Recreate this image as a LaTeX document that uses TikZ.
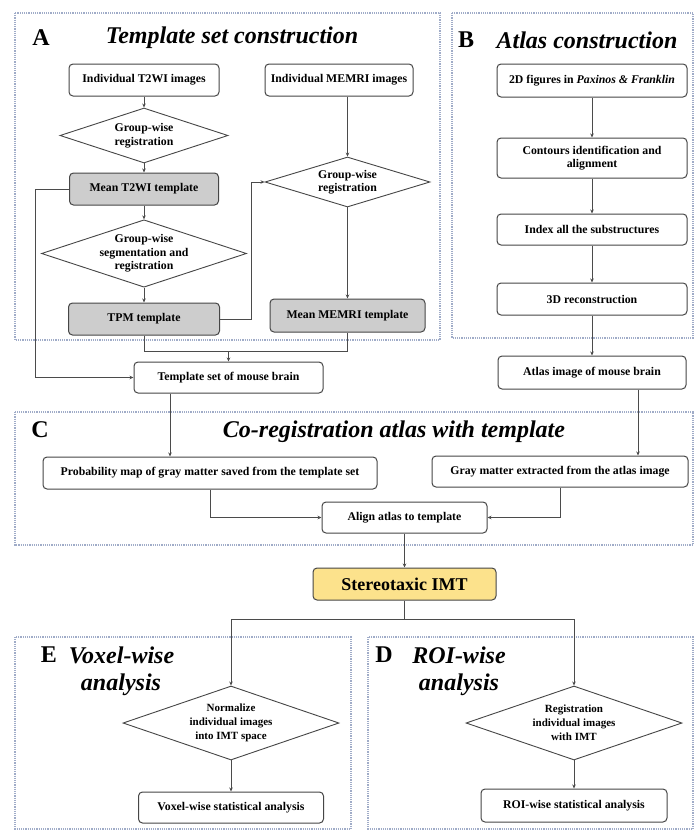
\documentclass[tikz,border=0pt]{standalone}
\usepackage{fontspec}
\setmainfont{Liberation Serif}
\usetikzlibrary{shapes.geometric,arrows.meta}

\definecolor{panelline}{RGB}{160,172,200}
\definecolor{boxline}{RGB}{70,70,70}
\definecolor{tmplfill}{RGB}{205,205,205}
\definecolor{imtfill}{RGB}{252,226,140}
\definecolor{wire}{RGB}{75,75,75}

\newcommand\bxfont{\fontsize{11.8}{13.5}\selectfont\bfseries}
\newcommand\dcfont{\fontsize{11.8}{13.5}\selectfont\bfseries}
\newcommand\dcsmall{\fontsize{11}{14}\selectfont\bfseries}
\newcommand\ltfont{\fontsize{24}{26}\selectfont\bfseries}
\newcommand\hdfont{\fontsize{24}{28}\selectfont\bfseries\itshape}

\tikzset{
  panel/.style={draw=panelline, densely dotted, line width=1.2pt},
  box/.style={draw=boxline, line width=1pt, rounded corners=4pt, fill=white,
    inner sep=0pt, align=center, font=\bxfont},
  tmpl/.style={box, fill=tmplfill},
  imt/.style={box, fill=imtfill, font=\fontsize{18}{20}\selectfont\bfseries},
  decision/.style={draw=boxline, line width=0.9pt, shape=diamond, shape aspect=3,
    inner sep=0pt, align=center, font=\dcfont},
  flow/.style={draw=wire, line width=0.9pt, -{Stealth[length=4pt,width=3.5pt]}},
  link/.style={draw=wire, line width=0.9pt},
  letter/.style={font=\ltfont, inner sep=0pt},
  heading/.style={font=\hdfont, inner sep=0pt, align=center},
}

\begin{document}
\begin{tikzpicture}[x=1pt, y=-1pt]
  \useasboundingbox[fill=white] (0,0) rectangle (695,830);

  % panel frames
  \draw[panel] (15,13) rectangle (440,340);
  \draw[panel] (452,13) rectangle (693,338);
  \draw[panel] (15,412) rectangle (693,545);
  \draw[panel] (15,637) rectangle (351,829);
  \draw[panel] (368,637) rectangle (693,829);

  % panel headings
  \node[letter] (la) at (41,38) {A};
  \node[heading] (ha) at (232,38) {Template set construction};
  \node[letter] (lb) at (466,40) {B};
  \node[heading] (hb) at (587,40) {Atlas construction};
  \node[letter] (lc) at (40,430) {C};
  \node[heading] (hc) at (394,432) {Co-registration atlas with template};
  \node[letter] (le) at (49,655) {E};
  \node[heading] (he1) at (121.5,655) {Voxel-wise};
  \node[heading] (he2) at (121,685) {analysis};
  \node[letter] (ld) at (384,655) {D};
  \node[heading] (hd1) at (459,655) {ROI-wise};
  \node[heading] (hd2) at (459,685) {analysis};

  % A: template set construction
  \node[box, minimum width=150pt, minimum height=32pt] (t2wi) at (144,80) {Individual T2WI images};
  \node[decision, minimum width=168pt, minimum height=55pt] (reg1) at (144,135.5) {Group-wise\\registration};
  \node[tmpl, minimum width=149pt, minimum height=32pt] (meant2) at (144,189) {Mean T2WI template};
  \node[decision, minimum width=205pt, minimum height=65pt] (seg) at (144,253.5) {Group-wise\\segmentation and\\registration};
  \node[tmpl, minimum width=151pt, minimum height=32pt] (tpm) at (144,319) {TPM template};
  \node[box, minimum width=148pt, minimum height=32pt] (memri) at (339,80) {Individual MEMRI images};
  \node[decision, minimum width=165pt, minimum height=50pt] (reg2) at (347.5,182) {Group-wise\\registration};
  \node[tmpl, minimum width=155pt, minimum height=33pt] (meanme) at (347.5,315.5) {Mean MEMRI template};
  \node[box, minimum width=189pt, minimum height=31pt] (tset) at (228.5,377.5) {Template set of mouse brain};

  % B: atlas construction
  \node[box, minimum width=190pt, minimum height=33pt] (fig2d) at (592,80.5) {2D figures in \textit{Paxinos \& Franklin}};
  \node[box, minimum width=190pt, minimum height=40pt] (cont) at (592,158) {Contours identification and\\alignment};
  \node[box, minimum width=190pt, minimum height=31pt] (index) at (592,229.5) {Index all the substructures};
  \node[box, minimum width=190pt, minimum height=32pt] (recon) at (592,299) {3D reconstruction};
  \node[box, minimum width=188pt, minimum height=33pt] (atlas) at (592,372.5) {Atlas image of mouse brain};

  % C: co-registration
  \node[box, minimum width=334pt, minimum height=32pt] (prob) at (210,473) {Probability map of gray matter saved from the template set};
  \node[box, minimum width=256pt, minimum height=31pt] (gray) at (560,471.5) {Gray matter extracted from the atlas image};
  \node[box, minimum width=165pt, minimum height=31pt] (align) at (404.5,517.5) {Align atlas to template};

  \node[imt, minimum width=183pt, minimum height=32pt] (stereo) at (404.5,584) {Stereotaxic IMT};

  % E and D: analyses
  \node[decision, font=\dcsmall, minimum width=216pt, minimum height=74pt] (norm) at (231,723) {Normalize\\individual images\\into IMT space};
  \node[box, minimum width=185pt, minimum height=31pt] (voxel) at (231,807.5) {Voxel-wise statistical analysis};
  \node[decision, font=\dcsmall, minimum width=216pt, minimum height=74pt] (roireg) at (574,723) {Registration\\individual images\\with IMT};
  \node[box, minimum width=186pt, minimum height=33pt] (roi) at (574,805.5) {ROI-wise statistical analysis};

  % connectors in A
  \draw[flow] (t2wi) -- (reg1);
  \draw[flow] (reg1) -- (meant2);
  \draw[flow] (meant2) -- (seg);
  \draw[flow] (seg) -- (tpm);
  \draw[flow] (memri.south -| reg2.north) -- (reg2.north);
  \draw[flow] (reg2) -- (meanme);
  \draw[flow] (tpm.east) -- ++(31,0) |- (reg2.west);
  \draw[flow] (meant2.west) -- ++(-34,0) |- (tset.west);
  \draw[link] (tpm.south) -- ++(0,16) coordinate (join) -| (meanme.south);
  \draw[flow] (join -| tset.north) -- (tset.north);

  % connectors in B
  \draw[flow] (fig2d) -- (cont);
  \draw[flow] (cont) -- (index);
  \draw[flow] (index) -- (recon);
  \draw[flow] (recon) -- (atlas);

  % connectors in C
  \draw[flow] ([xshift=-58.5pt]tset.south) -- ([xshift=-58.5pt]tset.south |- prob.north);
  \draw[flow] ([xshift=46pt]atlas.south) -- ([xshift=46pt]atlas.south |- gray.north);
  \draw[flow] (prob.south) |- (align.west);
  \draw[flow] (gray.south) |- (align.east);
  \draw[flow] (align) -- (stereo);

  % split towards the two analyses
  \draw[link] (stereo.south) -- ++(0,19) coordinate (split);
  \draw[flow] (split) -| (norm.north);
  \draw[flow] (split) -| (roireg.north);
  \draw[flow] (norm) -- (voxel);
  \draw[flow] (roireg) -- (roi);
\end{tikzpicture}
\end{document}
